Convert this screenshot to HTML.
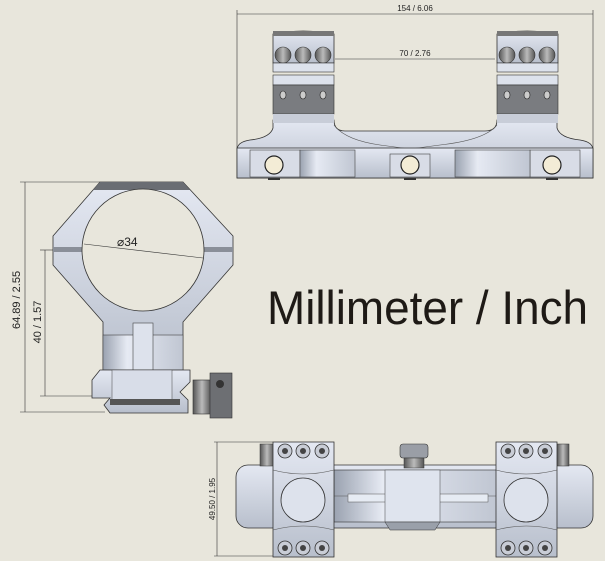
<!DOCTYPE html>
<html><head><meta charset="utf-8"><style>
html,body{margin:0;padding:0;background:#e8e6dc;}
svg{display:block}
text{font-family:"Liberation Sans",sans-serif;fill:#222}
</style></head><body>
<svg width="605" height="561" viewBox="0 0 605 561" xmlns="http://www.w3.org/2000/svg">
<defs>
<linearGradient id="m" x1="0" y1="0" x2="0" y2="1"><stop offset="0" stop-color="#e4e8f2"/><stop offset="1" stop-color="#b8bfcc"/></linearGradient>
<linearGradient id="mh" x1="0" y1="0" x2="1" y2="0"><stop offset="0" stop-color="#9aa2b0"/><stop offset="0.3" stop-color="#e6eaf3"/><stop offset="1" stop-color="#c0c6d2"/></linearGradient>
<linearGradient id="dk" x1="0" y1="0" x2="1" y2="0"><stop offset="0" stop-color="#555"/><stop offset="0.5" stop-color="#bbb"/><stop offset="1" stop-color="#555"/></linearGradient>
</defs>
<rect width="605" height="561" fill="#e8e6dc"/>

<!-- TOP VIEW -->
<g stroke="#333" stroke-width="0.6">
<line x1="237" y1="14" x2="593" y2="14"/>
<line x1="237" y1="10" x2="237" y2="150"/><line x1="593" y1="10" x2="593" y2="150"/>
<line x1="335" y1="59" x2="495" y2="59"/>
</g>
<text x="415" y="11" font-size="8" text-anchor="middle">154 / 6.06</text>
<text x="415" y="56" font-size="8" text-anchor="middle">70 / 2.76</text>
<!-- base body -->
<path d="M273,120 L273,128 Q270,138 250,140 Q237,142 237,150 L237,178 L593,178 L593,150 Q593,142 580,140 Q560,138 557,128 L557,120 L497,120 Q497,131 485,131 L345,131 Q334,131 334,120 Z" fill="url(#m)" stroke="#333" stroke-width="0.8"/>
<path d="M334,125 Q345,140 380,145 L410,149 L440,145 Q485,140 497,125" fill="none" stroke="#555" stroke-width="0.6"/>
<rect x="237" y="148" width="356" height="30" fill="url(#m)" stroke="#333" stroke-width="0.8"/>
<g fill="#d8dce6" stroke="#444" stroke-width="0.6">
<rect x="250" y="150" width="50" height="27"/><rect x="390" y="154" width="40" height="23"/><rect x="530" y="150" width="50" height="27"/>
<rect x="300" y="150" width="55" height="27" fill="url(#mh)"/><rect x="455" y="150" width="75" height="27" fill="url(#mh)"/>
</g>
<g fill="#f3ecd6" stroke="#222" stroke-width="1.2">
<circle cx="274" cy="165" r="9"/><circle cx="410" cy="165" r="9"/><circle cx="552" cy="165" r="9"/>
</g>
<g fill="#333"><rect x="268" y="178" width="12" height="2"/><rect x="404" y="178" width="12" height="2"/><rect x="546" y="178" width="12" height="2"/></g>
<!-- rings -->
<g id="ringT">
<path d="M273,34 Q303,28 334,34 L334,63 L273,63 Z" fill="url(#m)" stroke="#333" stroke-width="0.8"/>
<rect x="273" y="31" width="61" height="5" fill="#777"/>
<circle cx="283" cy="55" r="8" fill="url(#dk)" stroke="#333" stroke-width="0.6"/>
<circle cx="303" cy="55" r="8" fill="url(#dk)" stroke="#333" stroke-width="0.6"/>
<circle cx="323" cy="55" r="8" fill="url(#dk)" stroke="#333" stroke-width="0.6"/>
<rect x="273" y="63" width="61" height="9" fill="#dde2ec" stroke="#333" stroke-width="0.6"/>
<rect x="273" y="75" width="61" height="10" fill="#dde2ec" stroke="#333" stroke-width="0.6"/>
<rect x="273" y="85" width="61" height="29" fill="#7a7c80" stroke="#333" stroke-width="0.6"/>
<ellipse cx="283" cy="95" rx="3" ry="4" fill="#ccc" stroke="#222" stroke-width="0.6"/>
<ellipse cx="303" cy="95" rx="3" ry="4" fill="#ccc" stroke="#222" stroke-width="0.6"/>
<ellipse cx="323" cy="95" rx="3" ry="4" fill="#ccc" stroke="#222" stroke-width="0.6"/>
<rect x="273" y="114" width="61" height="9" fill="#c8cdd8"/>
</g>
<use href="#ringT" x="224"/>

<!-- SIDE VIEW -->
<g stroke="#333" stroke-width="0.6" fill="none">
<line x1="25" y1="182" x2="25" y2="412"/><line x1="20" y1="182" x2="100" y2="182"/><line x1="20" y1="412" x2="105" y2="412"/>
<line x1="45" y1="250" x2="45" y2="396"/><line x1="40" y1="250" x2="55" y2="250"/><line x1="40" y1="396" x2="120" y2="396"/>
</g>
<text transform="translate(20,300) rotate(-90)" font-size="11" text-anchor="middle">64.89 / 2.55</text>
<text transform="translate(41,322) rotate(-90)" font-size="11" text-anchor="middle">40 / 1.57</text>
<path d="M100,182 L183,182 L233,236 L233,265 L183,322 L183,370 L103,370 L103,322 L53,265 L53,236 Z" fill="url(#m)" stroke="#333" stroke-width="0.8"/>
<path d="M100,182 L183,182 L190,190 L93,190 Z" fill="#6a6d73"/>
<rect x="53" y="247" width="180" height="5" fill="#8a8f99"/>
<circle cx="143" cy="250" r="61" fill="#e8e6dc" stroke="#333" stroke-width="0.8"/>
<line x1="84" y1="244" x2="203" y2="258" stroke="#333" stroke-width="0.6"/>
<text x="117" y="246" font-size="12">⌀34</text>
<rect x="103" y="335" width="80" height="35" fill="url(#mh)" stroke="#444" stroke-width="0.6"/>
<rect x="133" y="323" width="20" height="47" fill="#dde2ec" stroke="#444" stroke-width="0.6"/>
<path d="M92,380 L100,370 L190,370 L190,382 L180,392 L188,400 L188,413 L110,413 L104,405 L110,398 L92,398 Z" fill="url(#m)" stroke="#333" stroke-width="0.8"/>
<rect x="112" y="370" width="60" height="30" fill="#d8dde8" stroke="#444" stroke-width="0.5"/>
<rect x="110" y="399" width="70" height="6" fill="#555"/>
<rect x="193" y="380" width="18" height="34" fill="url(#dk)" stroke="#333" stroke-width="0.6"/>
<rect x="210" y="373" width="22" height="45" fill="#6d6f73" stroke="#333" stroke-width="0.6"/>
<circle cx="220" cy="384" r="4" fill="#333"/>

<!-- TITLE -->
<text x="267" y="324" font-size="47" textLength="321" lengthAdjust="spacingAndGlyphs" style="fill:#1e1a16">Millimeter / Inch</text>

<!-- BOTTOM VIEW -->
<g stroke="#333" stroke-width="0.6"><line x1="217" y1="442" x2="217" y2="556"/><line x1="214" y1="442" x2="273" y2="442"/><line x1="214" y1="556" x2="273" y2="556"/></g>
<text transform="translate(215,499) rotate(-90)" font-size="8" text-anchor="middle">49.50 / 1.95</text>
<rect x="236" y="465" width="357" height="63" rx="12" fill="url(#m)" stroke="#333" stroke-width="0.8"/>
<rect x="334" y="470" width="163" height="52" fill="url(#mh)" stroke="#333" stroke-width="0.6"/>
<line x1="334" y1="496" x2="497" y2="496" stroke="#555" stroke-width="0.5"/>
<rect x="348" y="494" width="140" height="8" fill="#e6ebf3" stroke="#555" stroke-width="0.5"/>
<rect x="385" y="470" width="55" height="52" fill="#dfe4ee" stroke="#444" stroke-width="0.5"/>
<path d="M385,522 L440,522 L435,530 L390,530 Z" fill="#9aa0aa" stroke="#333" stroke-width="0.5"/>
<rect x="400" y="444" width="28" height="14" rx="3" fill="#9a9ea6" stroke="#333" stroke-width="0.6"/>
<rect x="404" y="458" width="20" height="10" fill="url(#dk)" stroke="#333" stroke-width="0.5"/>
<rect x="260" y="444" width="14" height="22" fill="url(#dk)" stroke="#333" stroke-width="0.5"/>
<rect x="557" y="444" width="12" height="22" fill="url(#dk)" stroke="#333" stroke-width="0.5"/>
<g id="ringB">
<rect x="273" y="442" width="61" height="115" fill="url(#m)" stroke="#333" stroke-width="0.8"/>
<path d="M273,470 Q303,478 334,470" fill="none" stroke="#555" stroke-width="0.6"/>
<path d="M273,530 Q303,522 334,530" fill="none" stroke="#555" stroke-width="0.6"/>
<circle cx="303" cy="500" r="22" fill="#dde2ec" stroke="#333" stroke-width="0.8"/>
<g fill="#c9cdd6" stroke="#333" stroke-width="0.8">
<circle cx="285" cy="451" r="7"/><circle cx="303" cy="451" r="7"/><circle cx="322" cy="451" r="7"/>
<circle cx="285" cy="548" r="7"/><circle cx="303" cy="548" r="7"/><circle cx="322" cy="548" r="7"/>
</g>
<g fill="#444"><circle cx="285" cy="451" r="3"/><circle cx="303" cy="451" r="3"/><circle cx="322" cy="451" r="3"/>
<circle cx="285" cy="548" r="3"/><circle cx="303" cy="548" r="3"/><circle cx="322" cy="548" r="3"/></g>
</g>
<use href="#ringB" x="223"/>
</svg>
</body></html>
